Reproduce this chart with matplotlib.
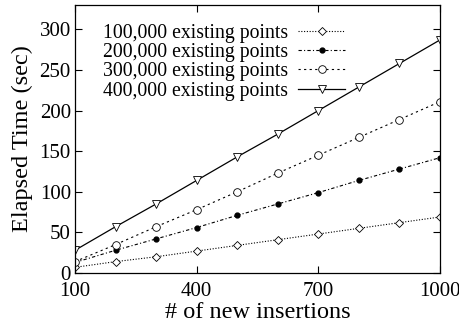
import matplotlib
matplotlib.use("Agg")
import matplotlib.pyplot as plt

plt.rcParams['font.family'] = ['Liberation Serif', 'DejaVu Serif']

insertions = [100, 200, 300, 400, 500, 600, 700, 800, 900, 1000]
t100k = [7, 14, 20, 27, 34, 41, 48, 55, 62, 69]
t200k = [13, 28, 42, 56, 71, 85, 99, 114, 128, 142]
t300k = [14, 35, 57, 78, 100, 123, 145, 167, 189, 211]
t400k = [28, 57, 85, 114, 143, 171, 200, 229, 258, 287]
labels = ["100,000 existing points", "200,000 existing points",
          "300,000 existing points", "400,000 existing points"]

fig = plt.figure(figsize=(4.6, 3.34), dpi=100)
ax = fig.add_axes([75 / 460, 1 - 273 / 334, 365 / 460, 268 / 334])

ax.plot(insertions, t100k, color='black', lw=0.8, ls=(0, (1, 1.5)),
        marker='D', ms=3.8, mfc='white', mec='black', mew=0.6, label=labels[0])
ax.plot(insertions, t200k, color='black', lw=0.8, ls=(0, (3, 2, 1, 2)),
        marker='o', ms=3.5, mfc='black', mec='black', label=labels[1])
ax.plot(insertions, t300k, color='black', lw=0.8, ls=(0, (2, 3)),
        marker='o', ms=5.5, mfc='white', mec='black', mew=0.6, label=labels[2])
ax.plot(insertions, t400k, color='black', lw=0.9, ls='-',
        marker='v', ms=5.5, mfc='white', mec='black', mew=0.6, label=labels[3])

ax.set_xlim(100, 1000)
ax.set_ylim(0, 330)
ax.set_xticks([100, 400, 700, 1000])
ax.set_yticks([0, 50, 100, 150, 200, 250, 300])
ax.tick_params(direction='in', top=True, right=True, labelsize=15, length=5, width=0.8)
ax.tick_params(axis='x', pad=6.5)
ax.tick_params(axis='y', pad=3)
for s in ax.spines.values():
    s.set_linewidth(0.9)

ax.set_xlabel("# of new insertions", fontsize=17.5, labelpad=1)
ax.set_ylabel("Elapsed Time (sec)", fontsize=17.5, labelpad=5)

ax.legend(loc='upper left', bbox_to_anchor=(0.055, 0.96), frameon=False, markerfirst=False,
          fontsize=14.2, handlelength=2.4, handletextpad=0.5, labelspacing=0.02,
          borderaxespad=0)

fig.savefig("out.png", dpi=100)
